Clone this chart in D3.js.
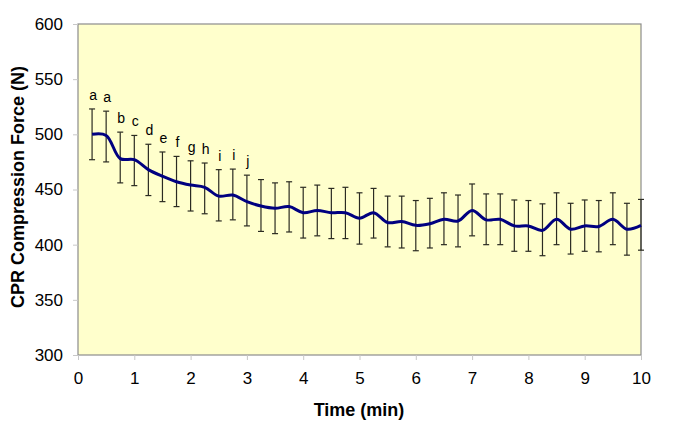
<!DOCTYPE html>
<html>
<head>
<meta charset="utf-8">
<script src="https://cdn.jsdelivr.net/npm/d3@7"></script>
<style>
  body { margin: 0; background: #fff; }
  svg { display: block; font-family: "Liberation Sans", Arial, sans-serif; }
</style>
</head>
<body>
<svg id="chart" width="685" height="429"></svg>
<script>
// Tempo (min), média e limites do desvio padrão
const times = [0.25, 0.5, 0.75, 1, 1.25, 1.5, 1.75, 2, 2.25, 2.5, 2.75, 3, 3.25, 3.5, 3.75, 4, 4.25, 4.5, 4.75, 5,
    5.25, 5.5, 5.75, 6, 6.25, 6.5, 6.75, 7, 7.25, 7.5, 7.75, 8, 8.25, 8.5, 8.75, 9, 9.25, 9.5, 9.75, 10];
const means = [500, 499, 478, 477, 468, 462, 457, 454, 452, 444, 445, 439, 435, 433, 434.5, 429, 431, 429, 429, 424,
    429, 420, 421, 417.5, 419, 423, 421.5, 431, 422.5, 423, 417, 417, 413, 423, 414, 417, 416.5, 423, 414, 417.5];
const upper = [523, 521, 502, 499, 491, 484, 480, 476, 474, 468, 468.5, 463, 459, 456, 457, 452, 454, 451, 452, 447,
    451, 444, 444, 440, 442, 447, 445, 455, 446, 446, 440.5, 440, 437, 447, 437.5, 440.5, 440, 447, 437.5, 441];
const lower = [477, 475, 456, 453.5, 444.5, 439, 434.5, 430.5, 428, 421.5, 422.5, 417, 412, 410, 411.5, 406, 408, 405.5, 405.5, 400.5,
    406, 398, 397, 394.5, 397, 400, 398, 408, 400, 400, 394, 394, 390, 400, 391.5, 394, 393.5, 400, 390.5, 395];
const letters = ['a', 'a', 'b', 'c', 'd', 'e', 'f', 'g', 'h', 'i', 'i', 'j'];
const xTicks = [0, 1, 2, 3, 4, 5, 6, 7, 8, 9, 10];
const yTicks = [300, 350, 400, 450, 500, 550, 600];

const svg = d3.select('#chart');
const plotLeft = 78, plotRight = 641, plotTop = 24, plotBottom = 355;

const x = d3.scaleLinear().domain([0, 10]).range([plotLeft, plotRight]);
const y = d3.scaleLinear().domain([300, 600]).range([plotBottom, plotTop]);

// Área do gráfico
svg.append('rect')
    .attr('x', plotLeft).attr('y', plotTop)
    .attr('width', plotRight - plotLeft).attr('height', plotBottom - plotTop)
    .attr('fill', '#ffffcc')
    .attr('stroke', '#8c8c8c')
    .attr('stroke-width', 1.2);

// Eixos
const yAxis = svg.append('g')
    .attr('transform', 'translate(' + plotLeft + ',0)')
    .call(d3.axisLeft(y).tickValues(yTicks).tickSize(5).tickPadding(10));
const xAxis = svg.append('g')
    .attr('transform', 'translate(0,' + plotBottom + ')')
    .call(d3.axisBottom(x).tickValues(xTicks).tickSize(5).tickPadding(12));

[yAxis, xAxis].forEach(function (a) {
    a.select('.domain').remove();
    a.selectAll('line').attr('stroke', '#c8c8c8');
    a.selectAll('text')
        .attr('font-size', 17)
        .attr('font-family', '"Liberation Sans", Arial, sans-serif')
        .attr('fill', '#000');
});

// Barras de erro
const pts = times.map(function (t, i) {
    return { t: t, m: means[i], hi: upper[i], lo: lower[i] };
});
const cap = 3;
const eb = svg.append('g')
    .attr('stroke', '#2b2b22')
    .attr('stroke-width', 1.2)
    .attr('fill', 'none');
pts.forEach(function (d) {
    const cx = x(d.t);
    eb.append('line').attr('x1', cx).attr('x2', cx).attr('y1', y(d.hi)).attr('y2', y(d.lo));
    eb.append('line').attr('x1', cx - cap).attr('x2', cx + cap).attr('y1', y(d.hi)).attr('y2', y(d.hi));
    eb.append('line').attr('x1', cx - cap).attr('x2', cx + cap).attr('y1', y(d.lo)).attr('y2', y(d.lo));
});

// Linha suavizada
const line = d3.line()
    .x(function (d) { return x(d.t); })
    .y(function (d) { return y(d.m); })
    .curve(d3.curveCatmullRom.alpha(0.5));

svg.append('path')
    .datum(pts)
    .attr('d', line)
    .attr('fill', 'none')
    .attr('stroke', '#000080')
    .attr('stroke-width', 3);

// Letras de significância
svg.append('g').selectAll('text')
    .data(letters)
    .enter().append('text')
    .attr('x', function (d, i) { return x(times[i]) + 1; })
    .attr('y', function (d, i) { return y(upper[i]) - 9; })
    .attr('text-anchor', 'middle')
    .attr('font-size', 14)
    .text(function (d) { return d; });

// Títulos dos eixos
svg.append('text')
    .attr('x', 359)
    .attr('y', 416)
    .attr('text-anchor', 'middle')
    .attr('font-size', 18)
    .attr('font-weight', 'bold')
    .text('Time (min)');

svg.append('text')
    .attr('transform', 'translate(24,187) rotate(-90)')
    .attr('text-anchor', 'middle')
    .attr('font-size', 18)
    .attr('font-weight', 'bold')
    .text('CPR Compression Force (N)');
</script>
</body>
</html>
